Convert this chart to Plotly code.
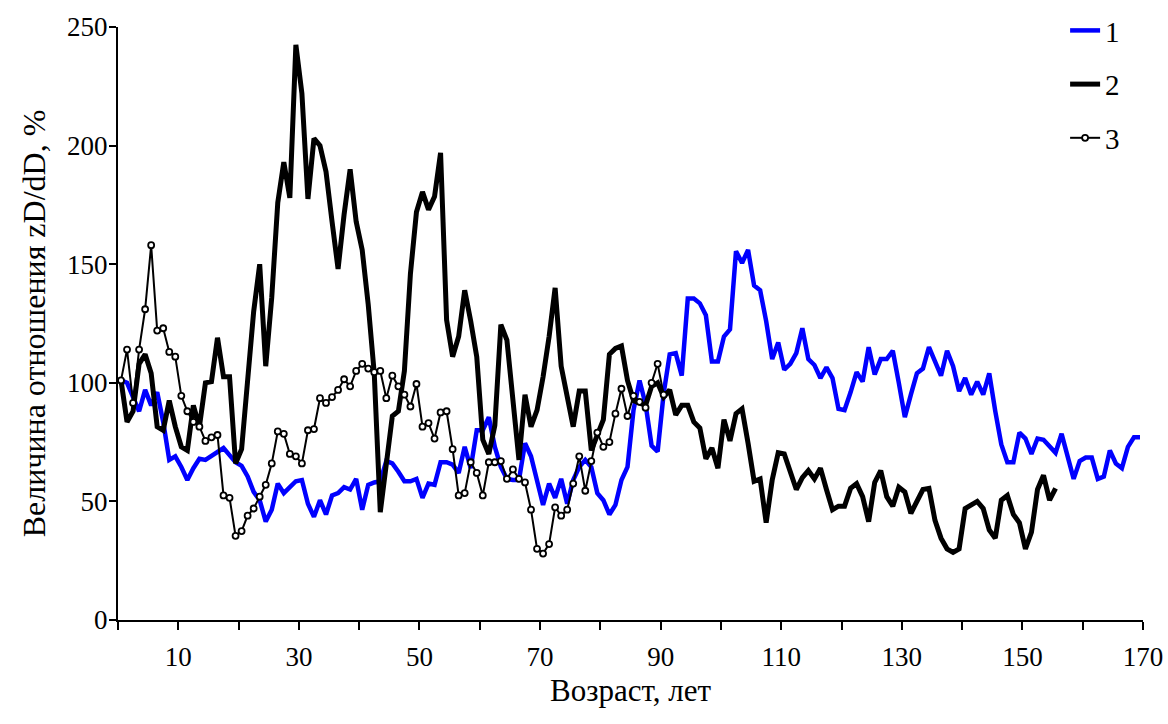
import numpy as np
import plotly.graph_objects as go

# Series values, one value per year starting at year 1
series1 = [101, 100, 94, 88, 97, 90.5, 96, 83.5, 67.5, 69,
           64.5, 59, 64, 68, 67.5, 69, 71, 72.5, 69.5, 66.5,
           65, 60.5, 54, 50.5, 41.5, 46.5, 57.5, 53.5, 56, 58.5,
           59, 49, 43.5, 50.5, 44.5, 52.5, 53.5, 56, 55, 59.5,
           46.5, 57, 58, 58.5, 67, 66, 62.5, 58.5, 58.5, 59.5,
           51.5, 57.5, 57, 66.5, 66.5, 65.5, 62, 73, 64, 80,
           80, 85.5, 73, 64.5, 59.5, 59, 59, 74.5, 69, 59,
           48.5, 57.5, 51.5, 59.5, 49, 59, 64.5, 67.5, 64.5, 53.5,
           50.5, 44.5, 48.5, 59, 64.5, 88.5, 101, 91, 73.5, 71,
           95.5, 112, 112.5, 103, 135.5, 135.5, 133.5, 128.5, 109, 109,
           119.5, 122.5, 155.5, 150.5, 156, 141, 139, 126, 110, 117,
           105.5, 108, 112.5, 123, 110, 107.5, 102, 106.5, 102, 89,
           88.5, 96, 104.5, 100.5, 115, 103.5, 110, 110, 113.5, 100,
           85.5, 95, 104, 106, 115, 109, 103, 113.5, 107, 96.5,
           102, 95, 100.5, 95, 104, 88, 74, 66.5, 66.5, 79,
           76.5, 70, 76.5, 76, 73, 70.5, 78.5, 69, 59.5, 67,
           68.5, 68.5, 59.5, 60.5, 71.5, 66, 64, 73, 77, 77]

series2 = [101, 83.5, 88, 108, 112, 104, 81.5, 80, 92.5, 81.5,
           73, 71.5, 90.5, 81.5, 100, 100.5, 119, 102.5, 102.5, 66,
           72, 100, 130, 150, 107, 136, 176, 193, 178, 242.5,
           222, 177.5, 203, 200, 189, 168, 148, 171, 190, 168,
           156, 133, 104, 45.5, 65, 86, 88, 105, 146, 172,
           180.5, 173, 178.5, 197, 126.5, 111, 119.5, 139, 126, 111,
           76, 70, 82, 124.5, 118, 94, 67.5, 95, 81.5, 88.5,
           102.5, 119.5, 140, 107, 94, 81.5, 96.5, 96.5, 71.5, 77.5,
           84.5, 112, 114.5, 115.5, 101, 92.5, 91.5, 90.5, 98.5, 100,
           94, 97, 86.5, 90.5, 90.5, 83.5, 81, 68, 72.5, 64,
           84.5, 75.5, 87, 89, 74.5, 58.5, 59.5, 41, 59, 70.5,
           70, 62.5, 55, 60, 63, 59.5, 64, 55, 46.5, 48,
           48, 55.5, 57.5, 52, 41.5, 58, 63, 52, 48, 56,
           54, 45, 50, 55, 55.5, 42, 34.5, 30, 28.5, 30,
           47, 48.5, 50, 47, 38, 34.5, 50.5, 52.5, 44.5, 41,
           30, 37, 55, 61, 50.5, 55.5]

series3 = [101, 114, 91.5, 114, 131, 158, 122, 123, 113, 111,
           94.5, 88, 83.5, 81.5, 75.5, 77, 78, 52.5, 51.5, 35.5,
           37.5, 44, 47, 52, 57, 66, 79.5, 78.5, 70, 69,
           66, 80, 80.5, 93.5, 91.5, 94, 97, 101.5, 98.5, 105,
           108, 106, 104.5, 105, 93.5, 103, 98.5, 95, 90, 99.5,
           81.5, 83, 76.5, 87.5, 88, 72, 52.5, 53.5, 66.5, 62,
           52.5, 66.5, 66.5, 67, 59.5, 63.5, 59.5, 58, 46.5, 30,
           28, 32, 47.5, 44, 46.5, 57.5, 69, 54.5, 67, 79,
           73, 75, 87, 97.5, 86, 94.5, 92, 89.5, 100, 108,
           95]

names = ["1", "2", "3"]

x_tickvals = list(range(0, 171, 10))
x_ticktext = ["" if v % 20 == 0 else str(v) for v in x_tickvals]
y_tickvals = [0, 50, 100, 150, 200, 250]

x_title = "Возраст, лет"
y_title = "Величина отношения zD/dD, %"

# each yearly value is placed at mid-year on the age axis
def ages(vals):
    return np.arange(len(vals)) + 0.5

FONT = "Liberation Serif, Times New Roman, serif"

fig = go.Figure()
fig.add_trace(go.Scatter(x=ages(series1), y=series1, mode="lines", name=names[0],
                         legendgroup="a",
                         line=dict(color="#0000FF", width=4.5), cliponaxis=False))
fig.add_trace(go.Scatter(x=ages(series2), y=series2, mode="lines", name=names[1],
                         legendgroup="b",
                         line=dict(color="#000000", width=5), cliponaxis=False))
fig.add_trace(go.Scatter(x=ages(series3), y=series3, mode="lines+markers", name=names[2],
                         legendgroup="c",
                         line=dict(color="#000000", width=2),
                         marker=dict(symbol="circle", size=6, color="#FFFFFF",
                                     line=dict(color="#000000", width=1.8)),
                         cliponaxis=False))

fig.update_layout(
    width=1168, height=724,
    margin=dict(l=118, r=25, t=27, b=104, pad=0, autoexpand=False),
    paper_bgcolor="white", plot_bgcolor="white",
    font=dict(family=FONT, size=27, color="black"),
    showlegend=True,
    legend=dict(x=0.924, xanchor="left", y=1.037, yanchor="top",
                font=dict(family=FONT, size=29, color="black"),
                tracegroupgap=13, bgcolor="rgba(0,0,0,0)", itemwidth=30),
    xaxis=dict(range=[0, 170], showgrid=False, zeroline=False,
               showline=True, linecolor="black", linewidth=2,
               ticks="outside", ticklen=8, tickwidth=2, tickcolor="black",
               tickvals=x_tickvals, ticktext=x_ticktext,
               tickfont=dict(family=FONT, size=27, color="black"),
               ticklabelstandoff=4,
               title=dict(text=x_title, font=dict(family=FONT, size=31, color="black"),
                          standoff=8)),
    yaxis=dict(range=[0, 250], showgrid=False, zeroline=False,
               showline=True, linecolor="black", linewidth=2,
               ticks="outside", ticklen=7, tickwidth=2, tickcolor="black",
               tickvals=y_tickvals,
               tickfont=dict(family=FONT, size=27, color="black"),
               ticklabelstandoff=-4,
               title=dict(text=y_title, font=dict(family=FONT, size=32, color="black"),
                          standoff=12)),
)

fig.write_html("out.html")
